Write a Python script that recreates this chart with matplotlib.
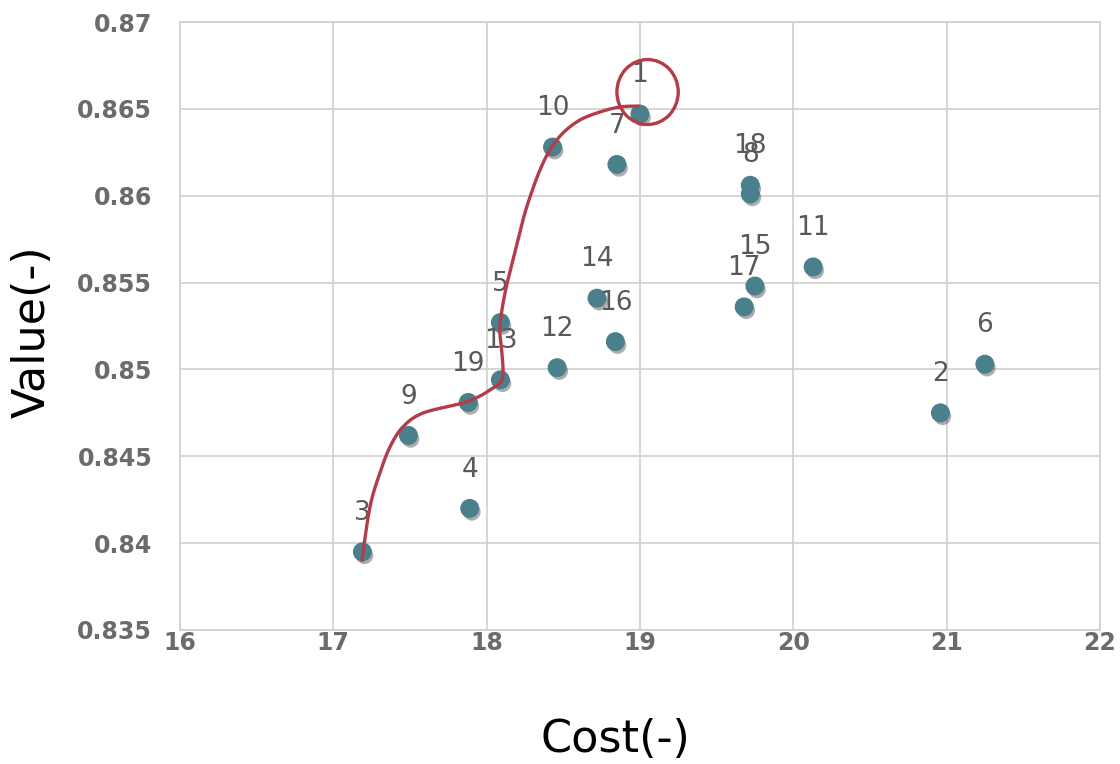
import matplotlib
matplotlib.use("Agg")
import matplotlib.pyplot as plt
import matplotlib.patheffects as pe
from matplotlib.patches import Ellipse
import numpy as np

# Point ids, cost and value
ids = [1, 2, 3, 4, 5, 6, 7, 8, 9, 10, 11, 12, 13, 14, 15, 16, 17, 18, 19]
cost = [19.00, 20.96, 17.19, 17.89, 18.09, 21.25, 18.85, 19.72, 17.49, 18.43,
        20.13, 18.46, 18.09, 18.72, 19.75, 18.84, 19.68, 19.72, 17.88]
value = [0.8647, 0.8475, 0.8395, 0.8420, 0.8527, 0.8503, 0.8618, 0.8601, 0.8462, 0.8628,
         0.8559, 0.8501, 0.8494, 0.8541, 0.8548, 0.8516, 0.8536, 0.8606, 0.8481]

# Hand-drawn front curve (red)
curve_x = [17.187, 17.239, 17.304, 17.370, 17.454, 17.585, 17.846, 17.957, 18.022, 18.087,
           18.107, 18.100, 18.087, 18.120, 18.172, 18.237, 18.283, 18.348, 18.413, 18.498,
           18.609, 18.739, 18.870, 18.987]
curve_y = [0.83903, 0.84208, 0.84404, 0.84554, 0.84669, 0.84749, 0.84807, 0.84847, 0.84882, 0.84922,
           0.84979, 0.85095, 0.85244, 0.85440, 0.85630, 0.85860, 0.85993, 0.86148, 0.86263, 0.86361,
           0.86436, 0.86482, 0.86511, 0.86516]

xticks = [16, 17, 18, 19, 20, 21, 22]
yticks = [0.835, 0.84, 0.845, 0.85, 0.855, 0.86, 0.865, 0.87]
ytick_labels = ["0.835", "0.84", "0.845", "0.85", "0.855", "0.86", "0.865", "0.87"]


def smooth(xs, ys, n=12):
    # Catmull-Rom through the traced points so the curve looks hand drawn
    px = np.array(xs)
    py = np.array(ys)
    px = np.concatenate([[px[0]], px, [px[-1]]])
    py = np.concatenate([[py[0]], py, [py[-1]]])
    outx, outy = [], []
    t = np.linspace(0, 1, n, endpoint=False)
    for i in range(1, len(px) - 2):
        for arr, out in ((px, outx), (py, outy)):
            p0, p1, p2, p3 = arr[i - 1], arr[i], arr[i + 1], arr[i + 2]
            out.extend(0.5 * ((2 * p1) + (-p0 + p2) * t
                              + (2 * p0 - 5 * p1 + 4 * p2 - p3) * t ** 2
                              + (-p0 + 3 * p1 - 3 * p2 + p3) * t ** 3))
    outx.append(xs[-1])
    outy.append(ys[-1])
    return outx, outy


fig = plt.figure(figsize=(11.2, 7.64), dpi=100)
ax = fig.add_axes([0.1607, 0.1754, 0.8213, 0.7958])

ax.set_xlim(16, 22)
ax.set_ylim(0.835, 0.87)
ax.set_xticks(xticks)
ax.set_yticks(yticks)
ax.set_yticklabels(ytick_labels)
ax.grid(True, color="#d0d0d0", linewidth=1.2)
ax.set_axisbelow(True)
for s in ax.spines.values():
    s.set_color("#d0d0d0")
    s.set_linewidth(1.2)
ax.tick_params(length=0, labelsize=17, labelcolor="#6b6b6b")
ax.tick_params(axis="y", pad=20)
ax.tick_params(axis="x", pad=1)
for lab in ax.get_xticklabels() + ax.get_yticklabels():
    lab.set_fontweight("bold")

ax.scatter(cost, value, s=160, color="#4a7f8c", zorder=3,
           path_effects=[pe.SimplePatchShadow(offset=(1.5, -2.5), shadow_rgbFace="#333333", alpha=0.4),
                         pe.Normal()])

for i, cx, cy in zip(ids, cost, value):
    ax.annotate(str(i), (cx, cy), xytext=(0, 28), textcoords="offset points",
                ha="center", va="center", fontsize=19, color="#595959", zorder=4)

sx, sy = smooth(curve_x, curve_y)
ax.plot(sx, sy, color="#b43c48", linewidth=2.4, zorder=5)
ax.add_patch(Ellipse((19.05, 0.86597), 0.40, 0.00374, fill=False,
                     edgecolor="#b43c48", linewidth=2.4, zorder=5))

ax.set_xlabel("Cost(-)", fontsize=32)
ax.set_ylabel("Value(-)", fontsize=32)
ax.xaxis.set_label_coords(0.473, -0.145)
ax.yaxis.set_label_coords(-0.137, 0.49)

fig.savefig("out.png", dpi=100)
